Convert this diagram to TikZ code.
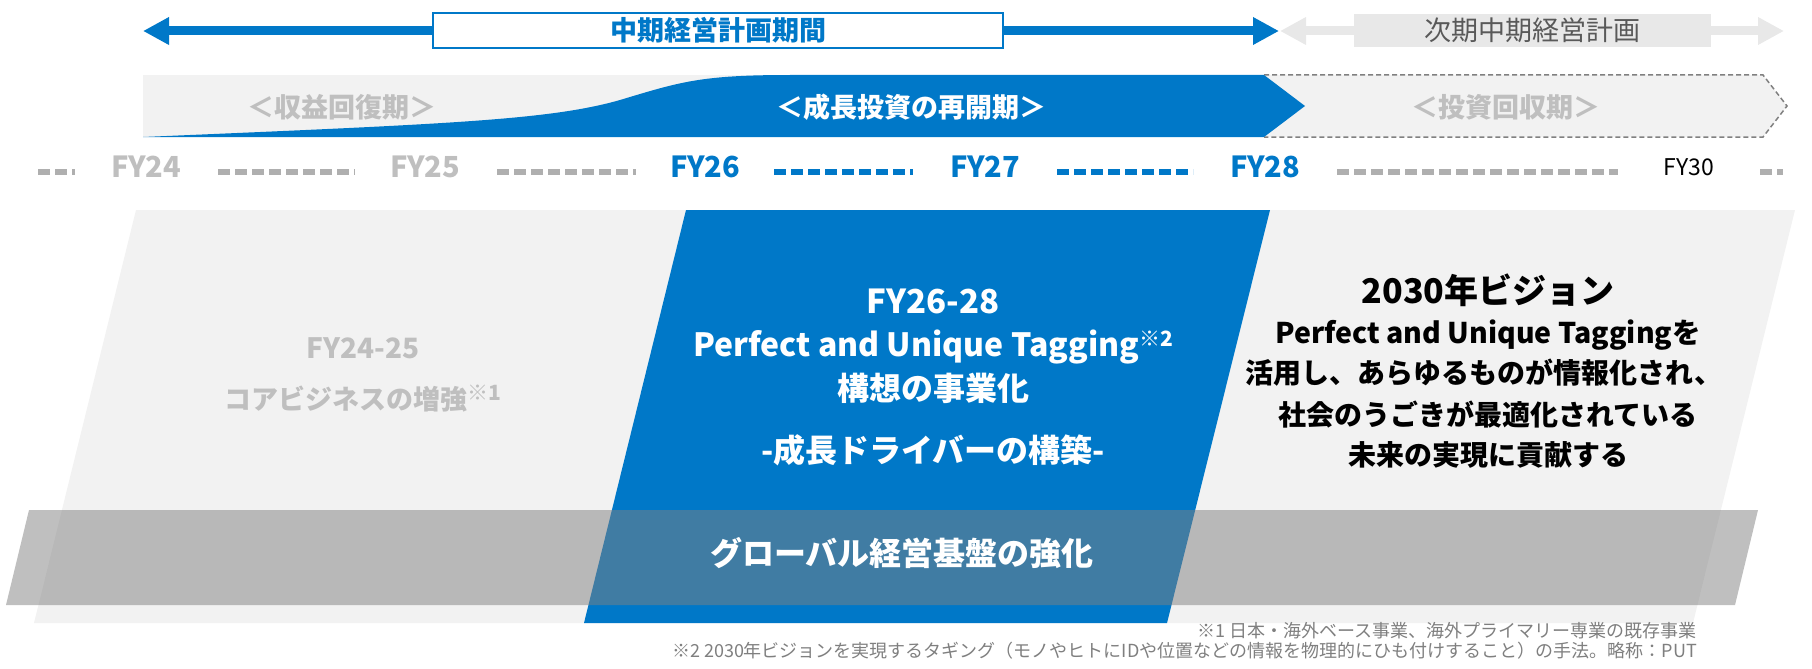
\documentclass[tikz,border=0pt]{standalone}
\usepackage{fontspec}
\setmainfont{Noto Sans CJK JP}
\usetikzlibrary{arrows.meta,positioning}
\definecolor{planblue}{RGB}{0,120,200}
\definecolor{lightbg}{RGB}{242,242,242}
\definecolor{paletext}{RGB}{191,191,191}
\definecolor{dashgray}{RGB}{175,175,175}
\definecolor{nextgray}{RGB}{232,232,232}
\definecolor{nexttext}{RGB}{89,89,89}
\definecolor{notegray}{RGB}{127,127,127}
\newcommand{\fs}[1]{\fontsize{#1}{#1}\selectfont}
\newcommand{\noteref}[1]{\raisebox{0.3em}{\fs{21}#1}}

\begin{document}
\begin{tikzpicture}[x=1pt,y=-1pt,every node/.append style={inner sep=0pt}]
    \tikzstyle{bigarrow}=[line width=9pt, {Triangle[length=26pt,width=26pt]}-{Triangle[length=26pt,width=26pt]}]
    \tikzstyle{phase}=[font=\fs{27}\bfseries]
    \tikzstyle{fy}=[font=\fs{29}\bfseries]
    \tikzstyle{yeardash}=[line width=5.5pt, dash pattern=on 12pt off 5pt]
    \tikzstyle{line}=[anchor=base, font=\fs{32}\bfseries]
    \tikzstyle{vision}=[anchor=base, font=\fs{28.5}\bfseries]
    \tikzstyle{note}=[anchor=base east, font=\fs{18}, text=notegray]
    \useasboundingbox (0,0) rectangle (1812,669);

    % period arrows
    \coordinate (planL) at (143,31);
    \coordinate (planR) at (1279,31);
    \coordinate (nextL) at (1280,31);
    \coordinate (nextR) at (1784,31);
    \draw[bigarrow, planblue] (planL) -- (planR);
    \draw[bigarrow, nextgray] (nextL) -- (nextR);
    \node[draw=planblue, line width=2pt, fill=white, minimum width=570pt, minimum height=35pt,
          font=\fs{27}\bfseries, text=planblue] (plan) at (718,30.5) {中期経営計画期間};
    \node[fill=nextgray, minimum width=357pt, minimum height=33pt,
          font=\fs{27}, text=nexttext] (nextplan) at (1532,30.5) {次期中期経営計画};

    % phase band
    \fill[lightbg] (143,75) rectangle (1264,137);
    \filldraw[fill=lightbg, draw=gray, line width=1.5pt, dash pattern=on 5pt off 3pt]
        (1264,75) -- (1763,75) -- (1787,106) -- (1763,137) -- (1264,137);
    \fill[planblue] (143,137) .. controls (450,124) and (550,120) .. (620,100)
        .. controls (680,82) and (700,75) .. (790,75) -- (1264,75) -- (1305,106) -- (1264,137) -- cycle;
    \node[phase, text=paletext] (recover) at (342,107.5) {＜収益回復期＞};
    \node[phase, text=white] (growth) at (911,107.5) {＜成長投資の再開期＞};
    \node[phase, text=paletext] (harvest) at (1506,107.5) {＜投資回収期＞};

    % fiscal years
    \foreach \a/\b/\col in {38/75/dashgray,218/355/dashgray,497/636/dashgray,774/913/planblue,
                             1057/1193/planblue,1337/1618/dashgray,1760/1783/dashgray} {
        \draw[yeardash, \col] (\a,172) -- (\b,172);
    }
    \node[fy, text=paletext] (fy24) at (146,167) {FY24};
    \node[fy, text=paletext] (fy25) at (425,167) {FY25};
    \node[fy, text=planblue] (fy26) at (705,167) {FY26};
    \node[fy, text=planblue] (fy27) at (985,167) {FY27};
    \node[fy, text=planblue] (fy28) at (1265,167) {FY28};
    \node[font=\fs{23}] (fy30) at (1689,167) {FY30};

    % stages
    \fill[lightbg] (136,210) -- (1795,210) -- (1693,623) -- (34,623) -- cycle;
    \fill[planblue] (686,210) -- (1270,210) -- (1167,623) -- (584,623) -- cycle;
    \fill[black!50, fill opacity=0.5] (29,510) -- (1758,510) -- (1735,605) -- (6,605) -- cycle;

    \node[line, font=\fs{28}\bfseries, text=paletext] (core1) at (363,358) {FY24-25};
    \node[line, font=\fs{27}\bfseries, text=paletext] (core2) at (363,409) {コアビジネスの増強\noteref{※1}};

    \node[line, font=\fs{33}\bfseries, text=white] (put1) at (933,313) {FY26-28};
    \node[line, text=white] (put2) at (933,356) {Perfect and Unique Tagging\noteref{※2}};
    \node[line, text=white] (put3) at (933,400) {構想の事業化};
    \node[line, text=white] (put4) at (933,462) {-成長ドライバーの構築-};

    \node[vision, font=\fs{34}\bfseries] (vis1) at (1488,303) {2030年ビジョン};
    \node[vision] (vis2) at (1488,343) {Perfect and Unique Taggingを};
    \node[vision, font=\fs{28}\bfseries] (vis3) at (1484,383) {活用し、あらゆるものが情報化され、};
    \node[vision, font=\fs{28}\bfseries] (vis4) at (1488,425) {社会のうごきが最適化されている};
    \node[vision, font=\fs{28}\bfseries] (vis5) at (1488,465) {未来の実現に貢献する};

    \node[line, text=white] (global) at (902,565) {グローバル経営基盤の強化};

    % notes
    \node[note] (note1) at (1697,637) {※1 日本・海外ベース事業、海外プライマリー専業の既存事業};
    \node[note] (note2) at (1697,657) {※2 2030年ビジョンを実現するタギング（モノやヒトにIDや位置などの情報を物理的にひも付けすること）の手法。略称：PUT};
\end{tikzpicture}
\end{document}
